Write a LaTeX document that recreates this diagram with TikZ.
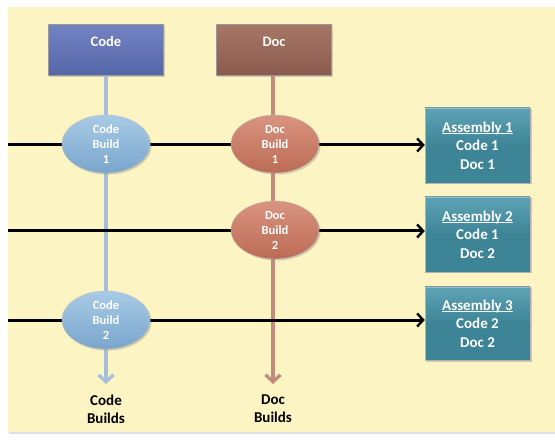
\documentclass[tikz,border=0pt]{standalone}
\usepackage{fontspec}
\setmainfont{Carlito}
\usetikzlibrary{arrows.meta,shapes.geometric,shadows}
\definecolor{panel}{HTML}{FDF4C3}
\definecolor{codebox}{HTML}{5566A8}
\definecolor{codeboxtop}{HTML}{7383C2}
\definecolor{docbox}{HTML}{8A5B4D}
\definecolor{docboxtop}{HTML}{A67666}
\definecolor{codeell}{HTML}{7AA5CC}
\definecolor{codeelltop}{HTML}{A8CBE6}
\definecolor{docell}{HTML}{BC6B55}
\definecolor{docelltop}{HTML}{D99480}
\definecolor{asm}{HTML}{3D8497}
\definecolor{asmtop}{HTML}{5EA3B5}
\definecolor{codeline}{HTML}{A4BEDD}
\definecolor{docline}{HTML}{C48A7E}
\newcommand\myul[1]{\setbox0\hbox{#1}\rlap{\rule[-1.6pt]{\wd0}{0.7pt}}\box0}
\begin{document}
\begin{tikzpicture}[x=1pt,y=-1pt,
  shadowed/.style={drop shadow={opacity=0.35,shadow xshift=1.5pt,shadow yshift=-1.5pt}},
  topbox/.style={shadowed,rectangle,minimum width=115pt,minimum height=51pt,inner sep=0pt,
    text height=10pt,text depth=16pt,
    text=white,font=\bfseries\fontsize{14.5}{16}\selectfont,draw=black!40,line width=0.4pt},
  buildell/.style={shadowed,ellipse,minimum width=88pt,minimum height=58pt,inner sep=0pt,
    text=white,align=center,font=\bfseries\fontsize{12.5}{15}\selectfont,draw=black!25,line width=0.4pt},
  asmbox/.style={shadowed,rectangle,minimum width=105pt,minimum height=75pt,inner sep=0pt,
    top color=asmtop,bottom color=asm,middle color=asm,
    text=white,align=center,font=\bfseries\fontsize{15}{18.5}\selectfont,draw=black!30,line width=0.4pt},
  hline/.style={line width=3pt,black,-{Straight Barb[length=6pt,width=13pt,line width=2.4pt]}},
  vline/.style={line width=3.8pt,-{Straight Barb[length=7pt,width=15pt,line width=3.2pt]}},
  botlabel/.style={align=center,font=\bfseries\fontsize{15}{18}\selectfont,text=black}
]
\useasboundingbox (0,0) rectangle (555,441);
\fill[white] (0,0) rectangle (555,441);
\fill[black!12] (9,9) rectangle (555,434);
\fill[panel] (8,7) rectangle (555,432);

% top boxes
\node[topbox,top color=codeboxtop,bottom color=codebox] (code) at (106,50) {Code};
\node[topbox,top color=docboxtop,bottom color=docbox] (doc) at (274,50) {Doc};

% assembly boxes
\node[asmbox] (a1) at (477.5,145.5) {\myul{Assembly 1}\\Code 1\\Doc 1};
\node[asmbox] (a2) at (477.5,234.5) {\myul{Assembly 2}\\Code 1\\Doc 2};
\node[asmbox,minimum height=73pt] (a3) at (477.5,323.5) {\myul{Assembly 3}\\Code 2\\Doc 2};

% free ends
\coordinate (cend) at (106,384);
\coordinate (dend) at (273,384);
\coordinate (l1) at (8,145);
\coordinate (l2) at (8,231);
\coordinate (l3) at (8,320);

% vertical lines
\draw[vline,codeline] (code.south) -- (cend);
\draw[vline,docline] (doc.south -| dend) -- (dend);

% horizontal lines
\draw[hline] (l1) -- (l1 -| a1.west);
\draw[hline] (l2) -- (l2 -| a2.west);
\draw[hline] (l3) -- (l3 -| a3.west);

% build ellipses
\node[buildell,top color=codeelltop,bottom color=codeell] (cb1) at (106,144) {Code\\Build\\1};
\node[buildell,top color=codeelltop,bottom color=codeell] (cb2) at (106,320) {Code\\Build\\2};
\node[buildell,top color=docelltop,bottom color=docell] (db1) at (275,144) {Doc\\Build\\1};
\node[buildell,top color=docelltop,bottom color=docell] (db2) at (275,230) {Doc\\Build\\2};

% bottom labels
\node[botlabel] (cbl) at (106,409) {Code\\Builds};
\node[botlabel] (dbl) at (273,409) {Doc\\Builds};
\end{tikzpicture}
\end{document}
